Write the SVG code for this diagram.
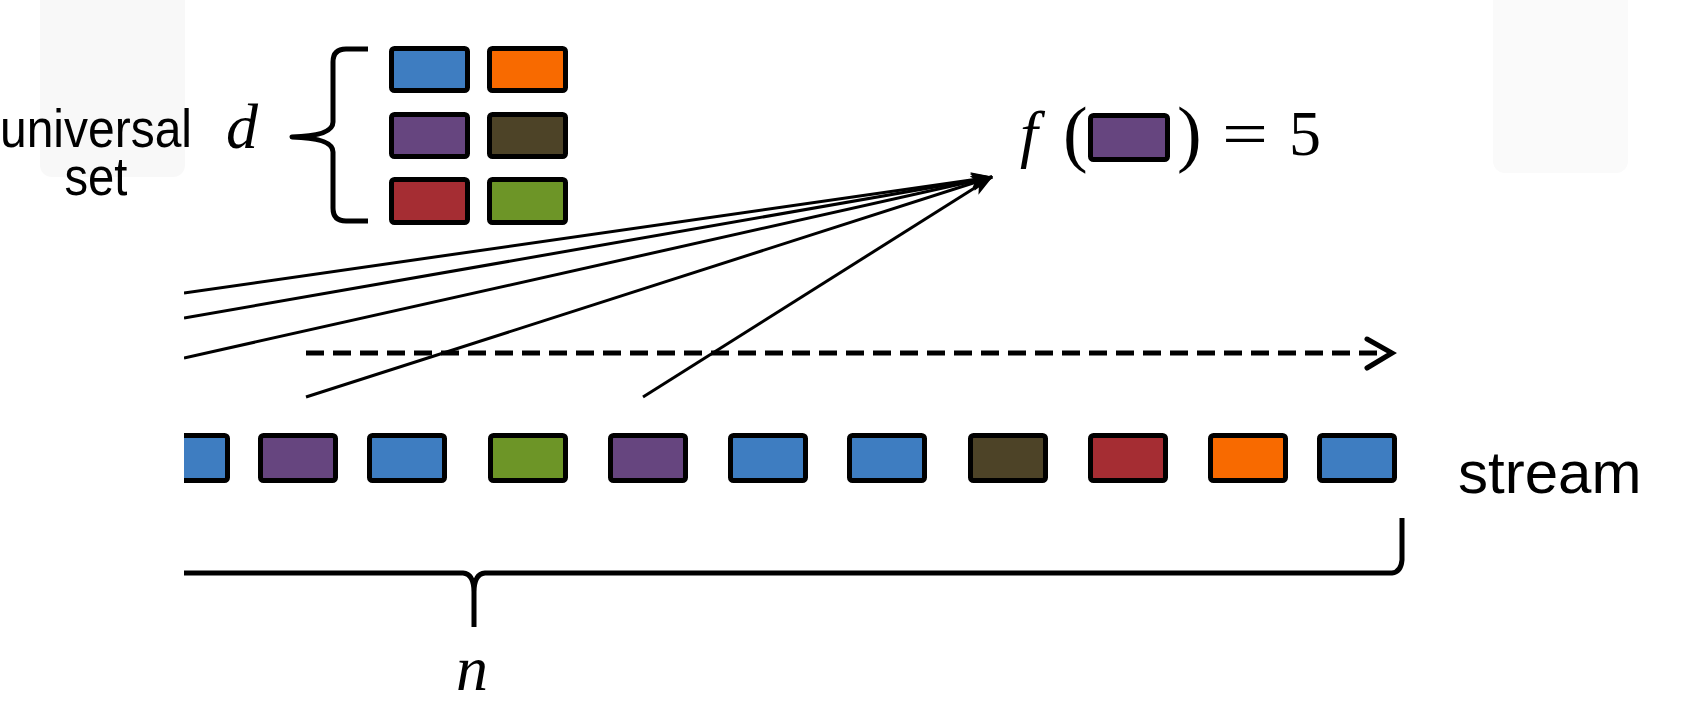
<svg xmlns="http://www.w3.org/2000/svg" width="1682" height="716" viewBox="0 0 1682 716">
<style>
.sans{font-family:"Liberation Sans",Arial,sans-serif;fill:#000}
.math{font-family:"Liberation Serif","Times New Roman",serif;fill:#000}
.it{font-style:italic}
.box{stroke:#000;stroke-width:5;stroke-linejoin:round}
.blue{fill:#3E7DC1}.orange{fill:#F86A00}.purple{fill:#66457F}.olive{fill:#4D4327}.red{fill:#A52D33}.green{fill:#6D9527}
.ray{stroke:#000;stroke-width:3;fill:none;marker-end:url(#ah)}
.brace{fill:none;stroke:#000;stroke-width:5;stroke-linecap:butt;stroke-linejoin:round}
</style>
<defs>
<marker id="ah" viewBox="0 0 20 14" refX="19" refY="7" markerWidth="22" markerHeight="16" markerUnits="userSpaceOnUse" orient="auto">
<path d="M0,0 L20,7 L0,14 L5,7 Z" fill="#000"/>
</marker>
<clipPath id="clipL"><rect x="184" y="0" width="1498" height="716"/></clipPath>
</defs>
<rect width="1682" height="716" fill="#fff"/>
<rect x="40" y="-12" width="145" height="189" rx="12" fill="#f8f8f8"/>
<rect x="1493" y="-12" width="135" height="185" rx="12" fill="#fafafa"/>

<g id="label-universal">
<text class="sans" x="96" y="147" font-size="54" text-anchor="middle" textLength="192" lengthAdjust="spacingAndGlyphs">universal</text>
<text class="sans" x="96" y="195" font-size="54" text-anchor="middle" textLength="63" lengthAdjust="spacingAndGlyphs">set</text>
</g>
<g id="label-d"><text class="math it" x="226" y="148" font-size="64">d</text></g>
<g id="brace-d"><path class="brace" d="M368,49 L346,49 Q333,49 333,62 L333,122 Q333,136 292,137 Q333,138 333,152 L333,208 Q333,221 346,221 L368,221"/></g>

<g id="universal-set">
<rect class="box blue" x="391.5" y="48.5" width="76" height="42" rx="3"/>
<rect class="box orange" x="489.5" y="48.5" width="76" height="42" rx="3"/>
<rect class="box purple" x="391.5" y="114.5" width="76" height="42" rx="3"/>
<rect class="box olive" x="489.5" y="114.5" width="76" height="42" rx="3"/>
<rect class="box red" x="391.5" y="179.5" width="76" height="43" rx="3"/>
<rect class="box green" x="489.5" y="179.5" width="76" height="43" rx="3"/>
</g>

<g id="label-f">
<text class="math it" x="1020" y="155" font-size="64">f</text>
<text class="math" x="1063" y="158" font-size="74">(</text>
<rect class="box purple" x="1090.5" y="115.5" width="77" height="44" rx="3"/>
<text class="math" x="1177" y="158" font-size="74">)</text>
<text class="math" x="1222" y="155" font-size="64" textLength="46" lengthAdjust="spacingAndGlyphs">=</text>
<text class="math" x="1289" y="155" font-size="64">5</text>
</g>

<g id="connectors" clip-path="url(#clipL)">
<line class="ray" x1="184" y1="293" x2="992" y2="177"/>
<line class="ray" x1="184" y1="318" x2="992" y2="177"/>
<line class="ray" x1="184" y1="358" x2="992" y2="177"/>
<line class="ray" x1="306" y1="397" x2="992" y2="177"/>
<line class="ray" x1="643" y1="397" x2="992" y2="177"/>
<line x1="306" y1="353" x2="1386" y2="353" stroke="#000" stroke-width="5" stroke-dasharray="18 9"/>
<polyline points="1367,339 1392,353 1367,368" fill="none" stroke="#000" stroke-width="5" stroke-linecap="round" stroke-linejoin="miter"/>
</g>

<g id="stream" clip-path="url(#clipL)">
<rect class="box blue" x="152.5" y="435.5" width="75" height="45" rx="3"/>
<rect class="box purple" x="260.5" y="435.5" width="75" height="45" rx="3"/>
<rect class="box blue" x="369.5" y="435.5" width="75" height="45" rx="3"/>
<rect class="box green" x="490.5" y="435.5" width="75" height="45" rx="3"/>
<rect class="box purple" x="610.5" y="435.5" width="75" height="45" rx="3"/>
<rect class="box blue" x="730.5" y="435.5" width="75" height="45" rx="3"/>
<rect class="box blue" x="849.5" y="435.5" width="75" height="45" rx="3"/>
<rect class="box olive" x="970.5" y="435.5" width="75" height="45" rx="3"/>
<rect class="box red" x="1090.5" y="435.5" width="75" height="45" rx="3"/>
<rect class="box orange" x="1210.5" y="435.5" width="75" height="45" rx="3"/>
<rect class="box blue" x="1319.5" y="435.5" width="75" height="45" rx="3"/>
</g>
<g id="label-stream"><text class="sans" x="1458" y="493" font-size="60">stream</text></g>

<g id="brace-n" clip-path="url(#clipL)">
<path class="brace" d="M184,573 L463,573 Q474,574 474,592 L474,627 M474,592 Q474,574 485,573 L1392,573 Q1401,572 1402,560 L1402,518"/>
</g>
<g id="label-n"><text class="math it" x="456" y="690" font-size="64">n</text></g>
</svg>
